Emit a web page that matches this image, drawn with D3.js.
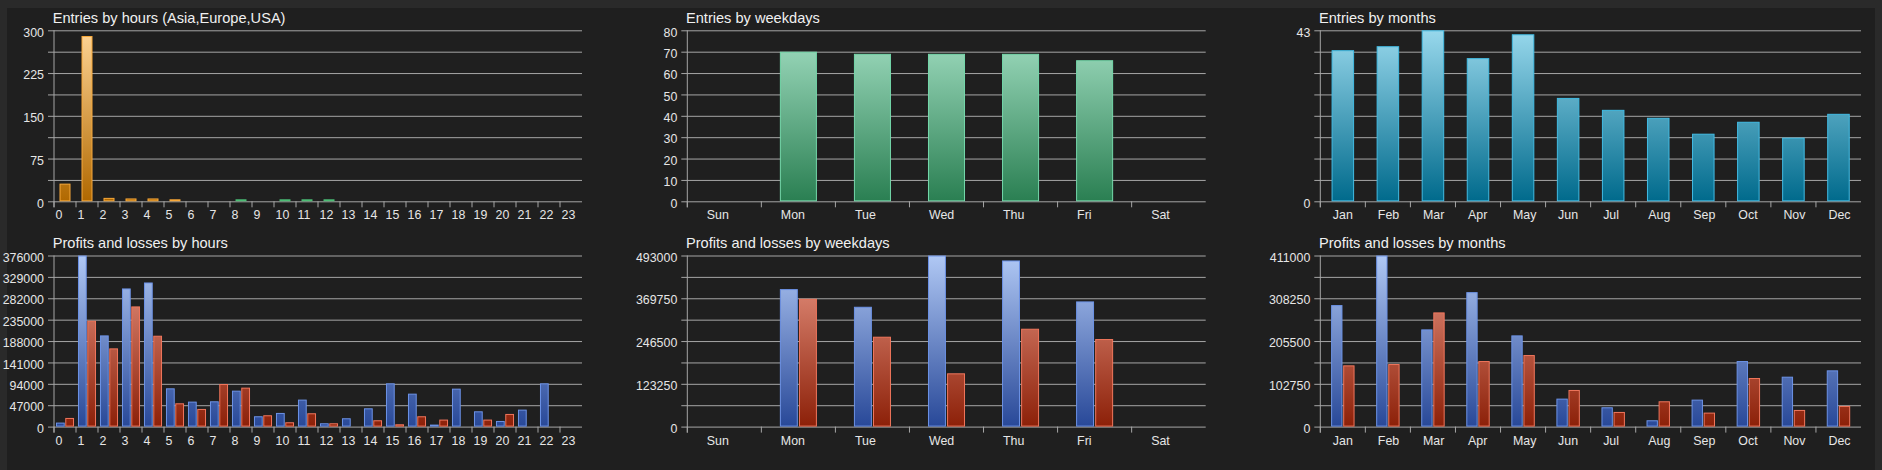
<!DOCTYPE html>
<html>
<head>
<meta charset="utf-8">
<script src="https://cdn.jsdelivr.net/npm/d3@7"></script>
<style>
  html, body { margin: 0; padding: 0; background: #2a2a2a; }
  svg { display: block; }
  text { font-family: "Liberation Sans", Arial, sans-serif; }
  .title { font-size: 14.6px; fill: #f0f0f0; }
  .tick text { font-size: 12.4px; fill: #e6e6e6; }
</style>
</head>
<body>
<svg id="dash" width="1882" height="470"></svg>
<script>
// ---- data ----
var hourLabels = ["0","1","2","3","4","5","6","7","8","9","10","11","12","13","14","15","16","17","18","19","20","21","22","23"]
var dayLabels = ["Sun","Mon","Tue","Wed","Thu","Fri","Sat"]
var monthLabels = ["Jan","Feb","Mar","Apr","May","Jun","Jul","Aug","Sep","Oct","Nov","Dec"]

var entriesByHour = [31,290,6,5,5,2,0,0,1,0,1,1,1,0,0,0,0,0,0,0,0,0,0,0]
var entriesByDay = [0,70,69,69,69,66,0]
var entriesByMonth = [38,39,43,36,42,26,23,21,17,20,16,22]

var profitByHour = [8800,376000,200400,303600,316700,84100,54900,55600,79000,22700,30000,59300,7300,18300,40200,95100,72400,1500,83400,33600,12400,37300,95100,0]
var lossByHour = [19000,232600,171900,264100,199700,51200,38800,93600,85600,24900,9500,29300,7300,0,13900,5100,22700,15400,0,15400,27800,0,0,0]
var profitByDay = [0,396200,345300,493000,478700,360700,0]
var lossByDay = [0,368300,259000,153500,282000,252300,0]
var profitByMonth = [291900,411000,233500,323000,219100,67200,46400,15200,64800,157500,119900,135100]
var lossByMonth = [147100,150300,274300,157500,171900,88000,35200,60800,33600,116700,40000,49600]

// y maxima and labelled ticks
var hourTicks = [0,75,150,225,300]
var dayTicks = [0,10,20,30,40,50,60,70,80]
var monthTicks = [0,43]
var plHourTicks = [0,47000,94000,141000,188000,235000,282000,329000,376000]
var plDayTicks = [0,123250,246500,369750,493000]
var plMonthTicks = [0,102750,205500,308250,411000]

// ---- layout ----
var svg = d3.select("#dash")
svg.append("rect").attr("x", 7).attr("y", 8).attr("width", 1868).attr("height", 462).attr("fill", "#1f1f1f")

var cols = [{x0: 54, x1: 582}, {x0: 687.3, x1: 1205.7}, {x0: 1320.3, x1: 1861}]
var rows = [{top: 30.3, bottom: 201.3}, {top: 255.5, bottom: 426.6}]

var defs = svg.append("defs")
function grad(id, y0, y1, c0, c1) {
  var g = defs.append("linearGradient").attr("id", id)
    .attr("gradientUnits", "userSpaceOnUse")
    .attr("x1", 0).attr("x2", 0).attr("y1", y0).attr("y2", y1)
  g.append("stop").attr("offset", "0%").attr("stop-color", c0)
  g.append("stop").attr("offset", "100%").attr("stop-color", c1)
}
grad("gOrange", rows[0].top, rows[0].bottom, "#ffd596", "#b06800")
grad("gGreenH", rows[0].top, rows[0].bottom, "#a2dec2", "#2a7f52")
grad("gBlueH", rows[0].top, rows[0].bottom, "#b0c8f4", "#284898")
grad("gGreen", rows[0].top, rows[0].bottom, "#a2dec2", "#2a7f52")
grad("gCyan", rows[0].top, rows[0].bottom, "#98d8ec", "#006a8c")
grad("gBlue", rows[1].top, rows[1].bottom, "#b0c8f4", "#284898")
grad("gRed", rows[1].top, rows[1].bottom, "#ec9a88", "#8c2008")

function frame(col, row, title, cats, max, labelTicks, labelDx) {
  var c = cols[col], r = rows[row]
  var x = d3.scaleBand().domain(cats).range([c.x0, c.x1])
  var y = d3.scaleLinear().domain([0, max]).range([r.bottom, r.top])
  var g = svg.append("g")

  // gridlines, 9 of them
  var lines = d3.range(9).map(function(k) { return max * k / 8 })
  g.append("g")
    .attr("transform", "translate(" + (c.x0 - 6) + ",0)")
    .call(d3.axisLeft(y).tickValues(lines).tickSize(-(c.x1 - c.x0 + 6)).tickFormat(""))
    .call(function(s) {
      s.select(".domain").remove()
      s.selectAll("line").attr("stroke", "#a6a6a6")
    })

  // y labels
  g.append("g")
    .attr("transform", "translate(" + c.x0 + ",0)")
    .call(d3.axisLeft(y).tickValues(labelTicks).tickSize(0).tickPadding(10).tickFormat(d3.format("d")))
    .call(function(s) {
      s.select(".domain").remove()
      s.selectAll("text").attr("dy", "0.46em")
    })

  // y axis line
  g.append("line")
    .attr("x1", c.x0).attr("x2", c.x0)
    .attr("y1", r.top).attr("y2", r.bottom + 6)
    .attr("stroke", "#a6a6a6")

  // x ticks at band starts, labels left aligned in band
  g.append("g")
    .attr("transform", "translate(0," + r.bottom + ")")
    .call(d3.axisBottom(x).tickSize(0).tickPadding(0))
    .call(function(s) {
      s.select(".domain").remove()
      s.selectAll(".tick text")
        .attr("text-anchor", "start")
        .attr("x", -x.bandwidth() / 2 + labelDx)
        .attr("y", 18).attr("dy", 0)
      s.selectAll(".tick").append("line")
        .attr("x1", -x.bandwidth() / 2).attr("x2", -x.bandwidth() / 2)
        .attr("y1", 0).attr("y2", 6)
        .attr("stroke", "#a6a6a6")
    })

  g.append("text").attr("class", "title")
    .attr("x", c.x0 - 1.3).attr("y", r.top - 7.6)
    .text(title)

  return {x: x, y: y, g: g}
}

function singleBars(f, cats, values, fillFn, strokeFn) {
  var bw = f.x.bandwidth() * 0.5
  var items = cats.map(function(c, i) { return {c: c, v: values[i], i: i} })
    .filter(function(d) { return d.v > 0 })
  f.g.append("g").selectAll("rect")
    .data(items)
    .join("rect")
    .attr("x", function(d) { return f.x(d.c) + (f.x.bandwidth() - bw) / 2 + 0.5 })
    .attr("y", function(d) { return Math.min(f.y(d.v) + 0.5, f.y(0) - 1.5) })
    .attr("width", bw - 1)
    .attr("height", function(d) { return Math.max(1, f.y(0) - f.y(d.v) - 1) })
    .attr("fill", function(d) { return fillFn(d.i) })
    .attr("stroke", function(d) { return strokeFn(d.i) })
    .attr("stroke-width", 1)
}

function pairBars(f, cats, profit, loss, groupFrac) {
  var gw = f.x.bandwidth() * groupFrac
  var sub = d3.scaleBand().domain(["p", "l"]).range([0, gw]).paddingInner(0.06)
  var rowsData = cats.map(function(c, i) { return {c: c, p: profit[i], l: loss[i]} })
  var styles = {p: {fill: "url(#gBlue)", stroke: "#6c92e6"}, l: {fill: "url(#gRed)", stroke: "#f0765c"}}
  f.g.append("g").selectAll("g")
    .data(rowsData)
    .join("g")
    .attr("transform", function(d) { return "translate(" + (f.x(d.c) + (f.x.bandwidth() - gw) / 2) + ",0)" })
    .selectAll("rect")
    .data(function(d) { return [{k: "p", v: d.p}, {k: "l", v: d.l}].filter(function(e) { return e.v > 0 }) })
    .join("rect")
    .attr("x", function(d) { return sub(d.k) + 0.5 })
    .attr("y", function(d) { return Math.min(f.y(d.v) + 0.5, f.y(0) - 1.5) })
    .attr("width", sub.bandwidth() - 1)
    .attr("height", function(d) { return Math.max(1, f.y(0) - f.y(d.v) - 1) })
    .attr("fill", function(d) { return styles[d.k].fill })
    .attr("stroke", function(d) { return styles[d.k].stroke })
}

// ---- charts ----
var f1 = frame(0, 0, "Entries by hours (Asia,Europe,USA)", hourLabels, 300, hourTicks, 1.5)
singleBars(f1, hourLabels, entriesByHour,
  function(i) { return i < 8 ? "url(#gOrange)" : i < 16 ? "url(#gGreenH)" : "url(#gBlueH)" },
  function(i) { return i < 8 ? "#f7a83a" : i < 16 ? "#4cbc74" : "#6c92e6" })

var f2 = frame(1, 0, "Entries by weekdays", dayLabels, 80, dayTicks, 19.5)
singleBars(f2, dayLabels, entriesByDay, function() { return "url(#gGreen)" }, function() { return "#74d8aa" })

var f3 = frame(2, 0, "Entries by months", monthLabels, 43, monthTicks, 12.5)
singleBars(f3, monthLabels, entriesByMonth, function() { return "url(#gCyan)" }, function() { return "#42bce4" })

var f4 = frame(0, 1, "Profits and losses by hours", hourLabels, 376000, plHourTicks, 1.5)
pairBars(f4, hourLabels, profitByHour, lossByHour, 0.82)

var f5 = frame(1, 1, "Profits and losses by weekdays", dayLabels, 493000, plDayTicks, 19.5)
pairBars(f5, dayLabels, profitByDay, lossByDay, 0.5)

var f6 = frame(2, 1, "Profits and losses by months", monthLabels, 411000, plMonthTicks, 12.5)
pairBars(f6, monthLabels, profitByMonth, lossByMonth, 0.52)
</script>
</body>
</html>
